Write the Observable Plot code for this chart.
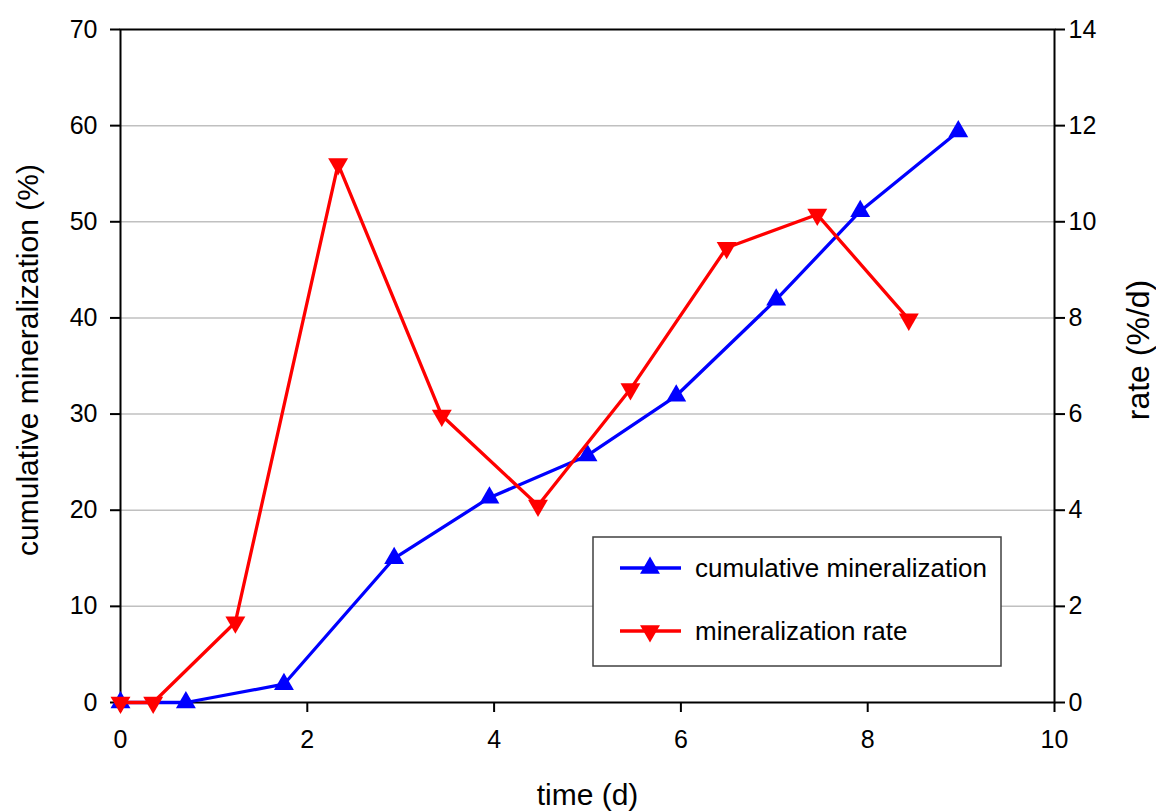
<!DOCTYPE html>
<html>
<head>
<meta charset="utf-8">
<script src="https://cdn.jsdelivr.net/npm/d3@7"></script>
<script src="https://cdn.jsdelivr.net/npm/@observablehq/plot@0.6"></script>
<style>
  html, body { margin: 0; padding: 0; background: #fff; }
  #chart { position: relative; width: 1156px; height: 811px; }
</style>
</head>
<body>
<div id="chart"></div>
<script>
// ---- data ----
const cumTime = [0, 0.70, 1.75, 2.93, 3.95, 5.00, 5.95, 7.02, 7.92, 8.97];
const cumValues = [0, 0, 1.9, 15.0, 21.3, 25.7, 31.9, 41.9, 51.1, 59.4];
const rateTime = [0, 0.35, 1.23, 2.33, 3.44, 4.47, 5.46, 6.49, 7.46, 8.44];
const rateValues = [0, 0, 1.67, 11.2, 5.97, 4.1, 6.52, 9.46, 10.15, 7.97];
const xTicks = [0, 2, 4, 6, 8, 10];
const yLeftTicks = [0, 10, 20, 30, 40, 50, 60, 70];
const yRightTicks = [0, 2, 4, 6, 8, 10, 12, 14];
const gridTicks = [10, 20, 30, 40, 50, 60];
const seriesNames = ["cumulative mineralization", "mineralization rate"];
const seriesColors = ["#0000ff", "#ff0000"];
const xLabel = "time (d)";
const yLeftLabel = "cumulative mineralization (%)";
const yRightLabel = "rate (%/d)";

const ratio = 70 / 14; // right axis maps 0–14 onto left 0–70
const cumData = cumTime.map((t, i) => ({t, v: cumValues[i]}));
const rateData = rateTime.map((t, i) => ({t, v: rateValues[i] * ratio}));

const font = "'Liberation Sans', Arial, sans-serif";

const plot = Plot.plot({
  width: 1156,
  height: 811,
  marginLeft: 120,
  marginRight: 102,
  marginTop: 29,
  marginBottom: 109,
  style: {fontFamily: font, background: "#fff", overflow: "visible"},
  x: {domain: [0, 10]},
  y: {domain: [0, 70]},
  marks: [
    Plot.gridY(gridTicks, {stroke: "#c0c0c0", strokeOpacity: 1, strokeWidth: 1.5}),
    Plot.axisX({ticks: xTicks, tickSize: 10, tickPadding: 18, fontSize: 25, label: null, strokeWidth: 2, stroke: "#000", fill: "#000"}),
    Plot.axisY({anchor: "left", ticks: yLeftTicks, tickSize: 10, tickPadding: 13, fontSize: 25, label: null, strokeWidth: 2, stroke: "#000", fill: "#000"}),
    Plot.axisY({anchor: "right", ticks: yRightTicks.map(d => d * ratio), tickFormat: d => String(Math.round(d / ratio)), tickSize: 10, tickPadding: 4, fontSize: 25, label: null, strokeWidth: 2, stroke: "#000", fill: "#000"}),
    Plot.frame({stroke: "#000", strokeWidth: 2}),
    Plot.line(cumData, {x: "t", y: "v", stroke: seriesColors[0], strokeWidth: 3.3}),
    Plot.dot(cumData, {x: "t", y: "v", symbol: "triangle", fill: seriesColors[0], stroke: "none", r: 7.4}),
    Plot.line(rateData, {x: "t", y: "v", stroke: seriesColors[1], strokeWidth: 3.3}),
    Plot.dot(rateData, {x: "t", y: "v", symbol: "triangle", rotate: 180, fill: seriesColors[1], stroke: "none", r: 7.4}),
    Plot.text([xLabel], {frameAnchor: "bottom", text: d => d, dy: 102, lineAnchor: "bottom", textAnchor: "middle", fontSize: 30, fill: "#000"}),
    Plot.text([yLeftLabel], {frameAnchor: "left", text: d => d, rotate: -90, dx: -83, dy: -6, lineAnchor: "bottom", textAnchor: "middle", fontSize: 30, fill: "#000"}),
    Plot.text([yRightLabel], {frameAnchor: "right", text: d => d, rotate: -90, dx: 94, dy: -16, lineAnchor: "bottom", textAnchor: "middle", fontSize: 32, fill: "#000"})
  ]
});

document.getElementById("chart").appendChild(plot);

const svg = d3.select(plot);

// ---- legend (inside plot area) ----
const lg = svg.append("g").attr("font-family", font).attr("text-anchor", "start");
lg.append("rect").attr("x", 593).attr("y", 537).attr("width", 408).attr("height", 129)
  .attr("fill", "#fff").attr("stroke", "#404040").attr("stroke-width", 1.5);
const rows = [568, 631];
const tri = d3.symbol(d3.symbolTriangle, 7.4 * 7.4 * Math.PI)();
seriesNames.forEach((name, i) => {
  const y = rows[i];
  lg.append("line").attr("x1", 620).attr("x2", 681).attr("y1", y).attr("y2", y)
    .attr("stroke", seriesColors[i]).attr("stroke-width", 3.3);
  lg.append("path").attr("d", tri)
    .attr("transform", `translate(650,${y})` + (i === 1 ? " rotate(180)" : ""))
    .attr("fill", seriesColors[i]);
  lg.append("text").attr("x", 695).attr("y", y).attr("dy", "0.35em")
    .attr("text-anchor", "start")
    .attr("font-size", 26).attr("fill", "#000").text(name);
});
</script>
</body>
</html>
